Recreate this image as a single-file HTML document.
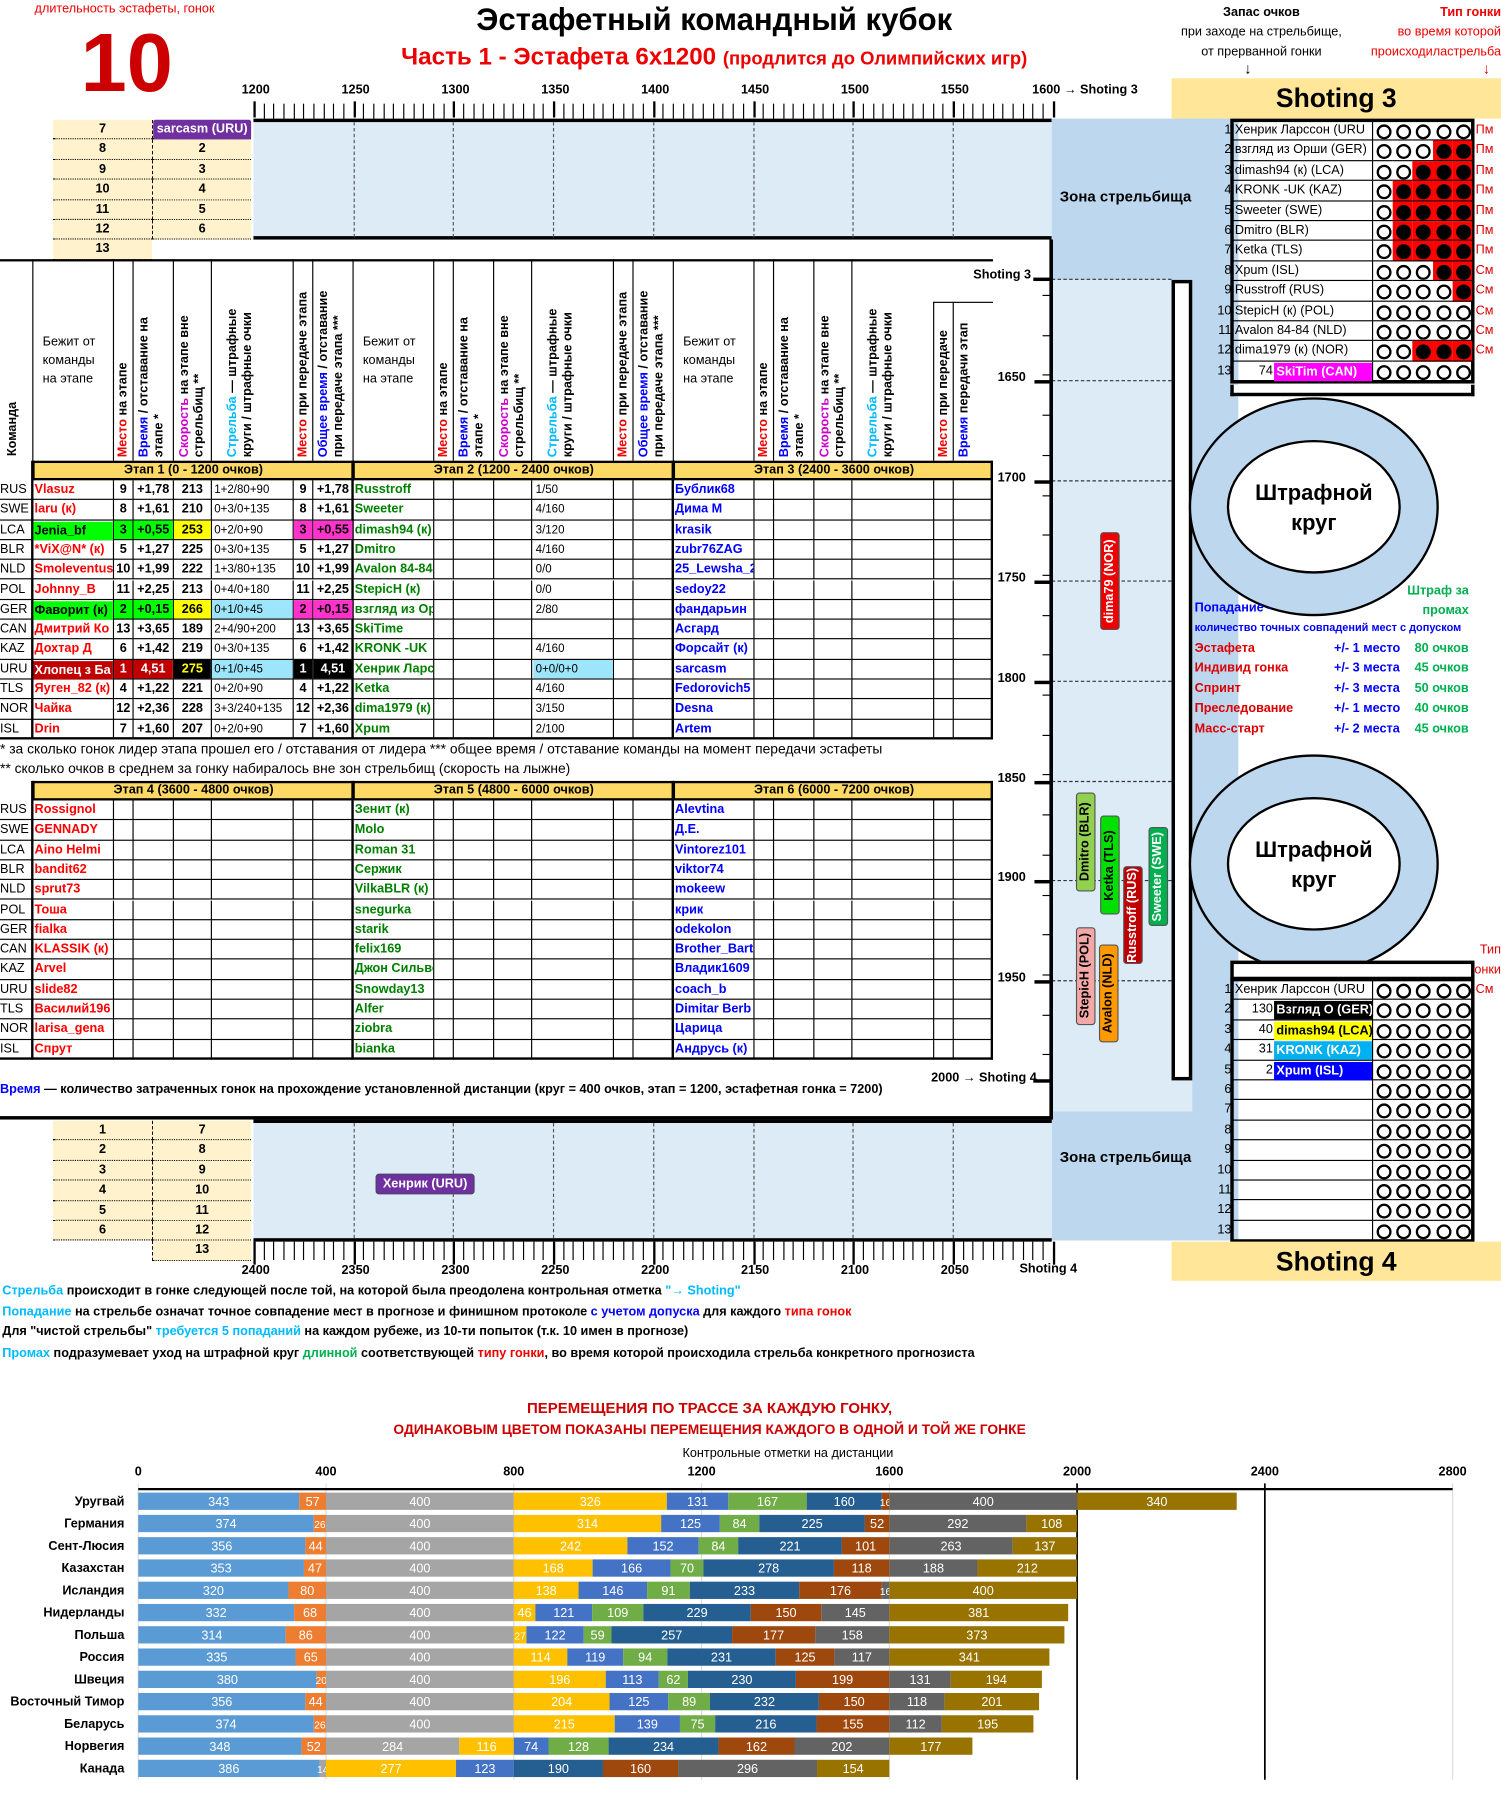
<!DOCTYPE html>
<html><head><meta charset="utf-8">
<style>
html,body{margin:0;padding:0;background:#fff;}
body{width:1501px;height:1806px;overflow:hidden;position:relative;}
#wrap{position:absolute;left:0;top:0;width:1303px;height:1568px;transform:scale(1.15196,1.1518);transform-origin:0 0;font-family:"Liberation Sans","DejaVu Sans",sans-serif;}
#wrap div{position:absolute;box-sizing:border-box;white-space:nowrap;overflow:hidden;}
.vt{writing-mode:vertical-rl;transform:rotate(180deg);white-space:normal!important;font-weight:bold;font-size:11px;line-height:13px;}
</style></head><body>
<div id="wrap"></div>
<svg id="chart" width="1303" height="390" style="position:absolute;left:0;top:0;transform-origin:0 0;"></svg>
<script>
const W=document.getElementById('wrap');
function mk(x,y,w,h,css,text,name){
  const el=document.createElement('div');
  el.style.cssText='left:'+x+'px;top:'+y+'px;width:'+w+'px;height:'+h+'px;'+(css||'');
  if(text!==undefined&&text!==null) el.innerHTML=text;
  
  
  W.appendChild(el);
  return el;
}
const T='font-size:11px;font-weight:bold;line-height:17px;';
mk(30,2,200,14,'color:#e00;font-size:11px;','длительность эстафеты, гонок','duration-label');
mk(70,18,110,75,'color:#c00;font-size:72px;font-weight:bold;line-height:75px;','10','duration-value');
mk(300,2,640,32,'font-size:27px;font-weight:bold;text-align:center;','Эстафетный командный кубок','main-title');
mk(280,38,680,28,'color:#e00;font-size:21px;font-weight:bold;text-align:center;','Часть 1 - Эстафета 6х1200 <span style="font-size:16px">(продлится до Олимпийских игр)</span>','subtitle');
mk(1010,3,170,64,'font-size:11px;text-align:center;line-height:17px;','<b>Запас очков</b><br>при заходе на стрельбище,<br>от прерванной гонки','reserve-note');
mk(1170,3,133,64,'font-size:11px;text-align:right;line-height:17px;color:#e00;','<b>Тип гонки</b><br>во время которой<br>происходиластрельба','race-type-note');
mk(1080,52,20,16,'font-size:13px;','↓','arrow-1');mk(1287,52,16,16,'font-size:13px;color:#e00','↓','arrow-2');
mk(1017,68,286,35,'background:#ffe699;font-size:23px;font-weight:bold;text-align:center;line-height:35px;','Shoting 3','shoting-3-header');
const topTicks=['1200','1250','1300','1350','1400','1450','1500','1550'];
topTicks.forEach((t,i)=>{mk(204+i*86.7,72,36,14,'font-size:11px;font-weight:bold;text-align:center;',t,'top-axis-label');});
mk(896,72,120,14,'font-size:11px;font-weight:bold;','1600 → Shoting 3','top-axis-end');
for(let i=0;i<=80;i++){const x=220+i*8.67;mk(x,i%10==0?88:90,i%10==0?2:1,14,'background:#000','','top-tick');}
mk(220,103,693,105,'background:#ddebf7;border-top:3px solid #000;border-bottom:3px solid #000;','','top-track');
for(let i=1;i<8;i++)mk(220+i*86.7,106,1,100,'border-left:1px dashed #555','','top-grid');
for(let r=0;r<7;r++){
 mk(46,104+r*17.4,86,17.4,'background:#fff2cc;border-bottom:1px dotted #000;text-align:center;'+T,String(7+r),'start-cell');
 if(r<6) mk(132,104+r*17.4,86,17.4,'background:#fff2cc;border-bottom:1px dotted #000;border-left:1px dashed #000;text-align:center;'+T,r==0?'':String(r+1),'start-cell');
}
mk(133,104,85,17,'background:#7030a0;color:#fff;text-align:center;border-radius:2px;'+T,'sarcasm (URU)','sarcasm-marker');
mk(913,103,157,974,'background:#ddebf7;','','zone-light');
mk(1035,103,40,974,'background:#bdd7ee;','','zone-track');
mk(913,103,123,140,'background:#bdd7ee;','','zone-top');
mk(920,163,130,20,'font-size:13px;font-weight:bold;','Зона стрельбища','zone-label-top');
mk(913,965,123,112,'background:#bdd7ee;','','zone-bottom');
mk(920,997,130,20,'font-size:13px;font-weight:bold;','Зона стрельбища','zone-label-bottom');
mk(1017,243,18,695,'background:#fff;border:3px solid #000;','','inner-track-wall');
mk(911,208,3,764,'background:#000','','right-axis-line');
[['1650',330],['1700',417],['1750',504],['1800',591],['1850',678],['1900',764],['1950',851]].forEach(a=>{
 mk(866,a[1]-8,38,15,'font-size:11px;font-weight:bold;',a[0],'right-axis-label');
 mk(898,a[1],15,3,'background:#000','','right-major-tick');
 mk(913,a[1],104,1,'border-top:1px dashed #333','','right-grid');
});
for(let i=0;i<20;i++)mk(905,256+i*34.7,7,1,'background:#000','','right-minor-tick');
mk(810,233,85,16,'font-size:11px;font-weight:bold;text-align:right','Shoting 3','shoting-3-mark');
mk(897,241,16,3,'background:#000','','s3-tick');
mk(913,242,104,1,'border-top:1px dashed #333','','s3-grid');
mk(780,930,120,16,'font-size:11px;font-weight:bold;text-align:right','2000 → Shoting 4','shoting-4-mark');
mk(897,937,16,3,'background:#000','','s4-tick');
function loop(cy,n){
 mk(1032,cy-95,217,190,'border-radius:50%;background:#bdd7ee;border:2px solid #000;','','penalty-loop-'+n);
 mk(1065,cy-58,151,116,'border-radius:50%;background:#fff;border:2px solid #000;text-align:center;font-size:19px;font-weight:bold;line-height:26px;padding-top:32px;','Штрафной<br>круг','penalty-loop-label-'+n);
}
loop(440,1);loop(750,2);
mk(1200,505,75,36,'color:#00b050;font-size:11px;font-weight:bold;text-align:right;line-height:17px;','Штраф за<br>промах','penalty-legend');
mk(1037,522,120,16,'color:#00f;font-size:11px;font-weight:bold;','Попадание -','hit-legend');
mk(1037,540,240,14,'color:#00f;font-size:9.5px;font-weight:bold;','количество точных совпадений мест с допуском','hit-legend-desc');
[['Эстафета','+/- 1 место','80 очков'],['Индивид гонка','+/- 3 места','45 очков'],['Спринт','+/- 3 места','50 очков'],['Преследование','+/- 1 место','40 очков'],['Масс-старт','+/- 2 места','45 очков']].forEach((r,i)=>{
 const y=557+i*17.4;
 mk(1037,y,110,17,'color:#d00;font-size:11px;font-weight:bold;',r[0],'race-type');
 mk(1158,y,65,17,'color:#00f;font-size:11px;font-weight:bold;',r[1],'tolerance');
 mk(1228,y,55,17,'color:#00b050;font-size:11px;font-weight:bold;',r[2],'penalty-points');
});
mk(1270,817,33,34,'color:#d00;font-size:11px;text-align:right;line-height:17px;','Тип<br>гонки','race-type-note-2');
[['dima79 (NOR)',955,462,85,'#e00','#fff'],['Dmitro (BLR)',934,688,86,'#92d050','#000'],['Ketka (TLS)',955,708,86,'#00e000','#000'],['Russtroff (RUS)',975,752,85,'#c00000','#fff'],['Sweeter (SWE)',997,718,86,'#00b050','#fff'],['StepicH (POL)',934,805,85,'#f4a7a7','#000'],['Avalon (NLD)',954,820,85,'#ff9900','#000']].forEach(t=>{
 mk(t[1],t[2],17,t[3],'background:'+t[4]+';color:'+t[5]+';border:1px solid #555;border-radius:3px;font-size:11px;font-weight:bold;writing-mode:vertical-rl;transform:rotate(180deg);text-align:center;line-height:15px;',t[0],'runner-tag');
});
function shootList(y0,names,fills,types){
 mk(1068,y0-2,212,13*17.4+4,'border:3px solid #000;','','shooting-list-border');
 names.forEach((n,i)=>{
  const y=y0+i*17.4;
  mk(1050,y,19,17.4,'text-align:right;font-size:11px;line-height:17px;',String(i+1),'lane-number');
  mk(1070,y,122,17.4,'border-bottom:1px solid #000;border-right:1px solid #000;font-size:11px;line-height:17px;padding-left:2px;',n[0]?n[0]:'','lane-name');
  if(n[1]!==undefined){mk(1070,y,35,17.4,'text-align:right;font-size:11px;line-height:17px;',n[1],'reserve-points');
   mk(1106,y+1,85,16,'background:'+n[2]+';color:'+n[3]+';font-size:11px;font-weight:bold;line-height:16px;padding-left:2px;',n[4],'lane-name-highlight');}
  for(let c=0;c<5;c++){
   const hit=c>=5-fills[i];
   mk(1192+c*17.2,y,17.2,17.4,'border-bottom:1px solid #000;'+(hit?'background:#f00;':''),'<span style="position:absolute;left:3px;top:3px;width:9px;height:9px;border:2px solid #000;border-radius:50%;background:'+(hit?'#000':'transparent')+'"></span>','target-'+c);
  }
  if(types[i])mk(1281,y,22,17.4,'color:#d00;font-size:11px;line-height:17px;',types[i],'race-type-cell');
 });
}
shootList(105,[['Хенрик Ларссон (URU'],['взгляд из Орши (GER)'],['dimash94 (к) (LCA)'],['KRONK -UK (KAZ)'],['Sweeter (SWE)'],['Dmitro (BLR)'],['Ketka (TLS)'],['Xpum (ISL)'],['Russtroff (RUS)'],['StepicH (к)  (POL)'],['Avalon 84-84 (NLD)'],['dima1979 (к) (NOR)'],['', '74','#ff00ff','#fff','SkiTim (CAN)']],[0,2,3,4,4,4,4,2,1,0,0,3,0],['Пм','Пм','Пм','Пм','Пм','Пм','Пм','См','См','См','См','См','']);
mk(1068,334,212,10,'border:3px solid #000;border-top:none;background:#fff','','s3-bottom-box');
mk(1068,834,212,17,'border:3px solid #000;background:#fff','','s4-top-box');
shootList(851,[['Хенрик Ларссон (URU'],['','130','#000','#fff','Взгляд О (GER)'],['','40','#ffff00','#000','dimash94 (LCA)'],['','31','#00b0f0','#fff','KRONK (KAZ)'],['','2','#0000ff','#fff','Xpum (ISL)'],[''],[''],[''],[''],[''],[''],[''],['']],[0,0,0,0,0,0,0,0,0,0,0,0,0],['См','','','','','','','','','','','','']);
const teams=['RUS','SWE','LCA','BLR','NLD','POL','GER','CAN','KAZ','URU','TLS','NOR','ISL'];
const s1=['Vlasuz','laru (к)','Jenia_bf','*ViX@N* (к)','Smoleventus','Johnny_B','Фаворит (к)','Дмитрий Ко','Дохтар Д','Хлопец з Ба','Яуген_82 (к)','Чайка','Drin'];
const place1=['9','8','3','5','10','11','2','13','6','1','4','12','7'];
const time1=['+1,78','+1,61','+0,55','+1,27','+1,99','+2,25','+0,15','+3,65','+1,42','4,51','+1,22','+2,36','+1,60'];
const speed1=['213','210','253','225','222','213','266','189','219','275','221','228','207'];
const shoot1=['1+2/80+90','0+3/0+135','0+2/0+90','0+3/0+135','1+3/80+135','0+4/0+180','0+1/0+45','2+4/90+200','0+3/0+135','0+1/0+45','0+2/0+90','3+3/240+135','0+2/0+90'];
const s2=['Russtroff','Sweeter','dimash94 (к)','Dmitro','Avalon 84-84','StepicH (к)','взгляд из Орши','SkiTime','KRONK -UK','Хенрик Ларссон','Ketka','dima1979 (к)','Xpum'];
const shoot2=['1/50','4/160','3/120','4/160','0/0','0/0','2/80','','4/160','0+0/0+0','4/160','3/150','2/100'];
const s3=['Бублик68','Дима М','krasik','zubr76ZAG','25_Lewsha_2','sedoy22','фандарьин','Асгард','Форсайт (к)','sarcasm','Fedorovich5','Desna','Artem'];
const s4=['Rossignol','GENNADY','Aino Helmi','bandit62','sprut73','Тоша','fialka','KLASSIK (к)','Arvel','slide82','Василий196','larisa_gena','Спрут'];
const s5=['Зенит (к)','Molo','Roman 31','Сержик','VilkaBLR (к)','snegurka','starik','felix169','Джон Сильвер','Snowday13','Alfer','ziobra','bianka'];
const s6=['Alevtina','Д.Е.','Vintorez101','viktor74','mokeew','крик','odekolon','Brother_Bart','Владик1609','coach_b','Dimitar Berb','Царица','Андрусь (к)'];
const cols=[[28,70],[98,17],[115,35],[150,33],[183,71],[254,17],[271,35]];
function grid(y0,stageNames,nameColors,titles){
 mk(28,y0-17,834,17,'background:#ffd966;border:2px solid #000;','','stage-header-row');
 titles.forEach((t,s)=>mk(28+s*278,y0-17,278,17,'text-align:center;border-left:2px solid #000;'+T,t,'stage-title'));
 for(let r=0;r<13;r++){
  const y=y0+r*17.3;
  mk(0,y,28,17.3,'font-size:11px;line-height:17px;border-bottom:1px solid #000;',teams[r],'team-code');
  for(let s=0;s<3;s++){
   cols.forEach(c=>{
    mk(c[0]+s*278,y,c[1],17.3,'border-left:1px solid #000;border-bottom:1px solid #000;','','cell');
   });
   mk(29+s*278,y,69,17.3,'color:'+nameColors[s]+';'+T+'padding-left:1px;',stageNames[s][r],'runner-name');
  }
 }
 mk(0,y0-17,862,13*17.3+17,'border-right:2px solid #000;border-bottom:2px solid #000;','','table-outline');
 [306,584].forEach(x=>mk(x-1,y0-17,2,13*17.3+17,'background:#000','','stage-divider'));
 mk(27,y0-17,2,13*17.3+17,'background:#000','','team-divider');
}
grid(417,[s1,s2,s3],['#f00','#008000','#00f'],['Этап 1  (0 - 1200 очков)','Этап 2  (1200 - 2400 очков)','Этап 3  (2400 - 3600 очков)']);
grid(695,[s4,s5,s6],['#f00','#008000','#00f'],['Этап 4  (3600 - 4800 очков)','Этап 5  (4800 - 6000 очков)','Этап 6  (6000 - 7200 очков)']);
for(let r=0;r<13;r++){
 const y=417+r*17.3;
 let nb='',nc='#f00',pb='',tb='',sb='',sc='#000',shb='',p2='',p2c='#000';
 if(r==2||r==6){nb='#00ff00';nc='#000';pb='#00ff00';tb='#00ff00';sb='#ffff00';p2='#ff33cc';}
 if(r==6)shb='#9de5fb';
 if(r==9){nb='#c00000';nc='#fff';pb='#c00000';tb='#c00000';sb='#000';sc='#ffff00';shb='#9de5fb';p2='#000';p2c='#fff';}
 if(nb)mk(29,y+1,69,16,'background:'+nb+';color:'+nc+';'+T+'line-height:16px;padding-left:1px',s1[r],'runner-name-hl');
 mk(99,y,16,16.3,(pb?'background:'+pb+';color:'+(r==9?'#fff':'#000')+';':'')+T+'text-align:center',place1[r],'place-stage');
 mk(116,y,34,16.3,(tb?'background:'+tb+';color:'+(r==9?'#fff':'#000')+';':'')+T+'text-align:center',time1[r],'time-stage');
 mk(151,y,32,16.3,(sb?'background:'+sb+';':'')+'color:'+sc+';'+T+'text-align:center',speed1[r],'speed');
 mk(184,y,70,16.3,(shb?'background:'+shb+';':'')+'font-size:10px;line-height:17px;padding-left:2px',shoot1[r],'shooting');
 mk(255,y,16,16.3,(p2?'background:'+p2+';color:'+p2c+';':'')+T+'text-align:center',place1[r],'place-handover');
 mk(272,y,34,16.3,(p2?'background:'+p2+';color:'+p2c+';':'')+T+'text-align:center',time1[r],'total-time');
 mk(463,y,69,16.3,(r==9?'background:#9de5fb;':'')+'font-size:10px;line-height:17px;padding-left:2px',shoot2[r],'shooting-s2');
}
mk(0,225,862,175,'border-top:2px solid #000;','','table-header');
mk(0,225,28,175,'','<div class="vt" style="position:absolute;left:5px;bottom:4px;height:160px;text-align:left">Команда</div>','team-col-header');
const vh=[
 [17,'<span style="color:#e00">Место</span> на этапе'],
 [35,'<span style="color:#00f">Время</span> / отставание на этапе *'],
 [33,'<span style="color:#c0c">Скорость</span> на этапе вне стрельбищ **'],
 [71,'<span style="color:#0bf">Стрельба</span> — штрафные круги / штрафные очки'],
 [17,'<span style="color:#e00">Место</span> при передаче этапа'],
 [35,'<span style="color:#00f">Общее время</span> / отставание при передаче этапа ***']];
for(let s=0;s<3;s++){
 const bx=28+s*278;
 mk(bx,225,70,175,'border-left:1px solid #000;','<div style="position:absolute;left:8px;top:64px;font-size:11px;line-height:16px;white-space:normal;width:60px">Бежит от команды на этапе</div>','runner-col-header');
 let x=bx+70;
 vh.forEach((h,i)=>{
  let txt=h[1],top=225;
  if(s==2&&i==4){txt='<span style="color:#e00">Место</span> при передаче';top=262;}
  if(s==2&&i==5){txt='<span style="color:#00f">Время</span>  передачи этап';top=262;}
  mk(x,top,h[0],400-top,'border-left:1px solid #000;'+(top>225?'border-top:1px solid #000;':''),'<div class="vt" style="position:absolute;left:'+(h[0]>30&&h[0]<60?3:(h[0]>60?12:2))+'px;bottom:3px;height:'+(top>225?130:150)+'px;text-align:left">'+txt+'</div>','metric-col-header');
  x+=h[0];
 });
}
mk(0,643,880,16,'font-size:12px;','* за сколько гонок лидер этапа прошел его / отставания от лидера *** общее время / отставание команды на момент передачи эстафеты','footnote-1');
mk(0,660,600,16,'font-size:12px;','** сколько очков в среднем за гонку набиралось вне зон стрельбищ (скорость на лыжне)','footnote-2');
mk(0,940,800,16,'font-size:11px;font-weight:bold;','<span style="color:#00f">Время</span> — количество затраченных гонок на прохождение установленной дистанции (круг = 400 очков, этап = 1200, эстафетная гонка = 7200)','time-note');
mk(911,208,3,764,'background:#000','','outline-right');
mk(0,969,914,3,'background:#000','','outline-bottom');
mk(220,972,693,106,'background:#ddebf7;border-top:3px solid #000;border-bottom:3px solid #000;','','bottom-track');
for(let i=1;i<8;i++)mk(220+i*86.7,975,1,100,'border-left:1px dashed #555','','bottom-grid');
for(let r=0;r<7;r++){
 if(r<6) mk(46,973+r*17.4,86,17.4,'background:#fff2cc;border-bottom:1px dotted #000;text-align:center;'+T,String(r+1),'start-cell');
 mk(132,973+r*17.4,86,17.4,'background:#fff2cc;border-bottom:1px dotted #000;border-left:1px dashed #000;text-align:center;'+T,String(7+r),'start-cell');
}
mk(326,1019,86,18,'background:#7030a0;color:#fff;text-align:center;border-radius:3px;border:1px solid #446;'+T+'line-height:16px','Хенрик (URU)','henrik-marker');
for(let i=0;i<=80;i++){const x=220+i*8.67;mk(x,1078,i%10==0?2:1,i%10==0?20:16,'background:#000','','bottom-tick');}
['2400','2350','2300','2250','2200','2150','2100','2050'].forEach((t,i)=>mk(204+i*86.7,1097,36,14,'font-size:11px;font-weight:bold;text-align:center;',t,'bottom-axis-label'));
mk(885,1096,70,14,'font-size:11px;font-weight:bold;','Shoting 4','bottom-axis-end');
mk(1017,1078,286,34,'background:#ffe699;font-size:23px;font-weight:bold;text-align:center;line-height:34px;','Shoting 4','shoting-4-header');
const fs='font-size:11px;font-weight:bold;';
mk(2,1115,900,16,fs,'<span style="color:#0bf">Стрельба</span> происходит в гонке следующей после той, на которой была преодолена контрольная отметка <span style="color:#0bf">"→ Shoting"</span>','note-1');
mk(2,1133,900,16,fs,'<span style="color:#0bf">Попадание</span> на стрельбе означат точное совпадение мест в прогнозе и финишном протоколе <span style="color:#00f">с учетом допуска</span> для каждого <span style="color:#e00">типа гонок</span>','note-2');
mk(2,1150,900,16,fs,'Для "чистой стрельбы" <span style="color:#0bf">требуется 5 попаданий</span> на каждом рубеже, из 10-ти попыток (т.к. 10 имен в прогнозе)','note-3');
mk(2,1169,900,16,fs,'<span style="color:#0bf">Промах</span> подразумевает уход на штрафной круг <span style="color:#00b050">длинной</span> соответствующей <span style="color:#e00">типу гонки</span>, во время которой происходила стрельба конкретного прогнозиста','note-4');
</script>
<script>
const countries=['Уругвай','Германия','Сент-Люсия','Казахстан','Исландия','Нидерланды','Польша','Россия','Швеция','Восточный Тимор','Беларусь','Норвегия','Канада'];
const race1=[343,374,356,353,320,332,314,335,380,356,374,348,386];
const race2=[57,26,44,47,80,68,86,65,20,44,26,52,0];
const race3=[400,400,400,400,400,400,400,400,400,400,400,284,14];
const race4=[326,314,242,168,138,46,27,114,196,204,215,116,277];
const race5=[131,125,152,166,146,121,122,119,113,125,139,74,123];
const race6=[167,84,84,70,91,109,59,94,62,89,75,128,0];
const race7=[160,225,221,278,233,229,257,231,230,232,216,234,190];
const race8=[16,52,101,118,176,150,177,125,199,150,155,162,160];
const race9=[400,292,263,188,16,145,158,117,131,118,112,202,296];
const race10=[340,108,137,212,400,381,373,341,194,201,195,177,154];
const race11=[0,0,0,0,0,0,0,0,0,0,0,0,0];
const xTicks=[0,400,800,1200,1600,2000,2400,2800];
const series=[race1,race2,race3,race4,race5,race6,race7,race8,race9,race10,race11];
const colors=['#5b9bd5','#ed7d31','#a5a5a5','#ffc000','#4472c4','#70ad47','#255e91','#9e480e','#636363','#997300','#c9e265'];
const NS='http://www.w3.org/2000/svg';
const svg=document.getElementById('chart');
svg.style.transform='scale(1.15196,1.1518)';
svg.style.top=(1180*1.1518)+'px';
const x0=120,pxPer=163/400,rowTop=1294-1180,pitch=19.33,barH=15;
const X=v=>x0+v*pxPer;
const Y=i=>rowTop+i*pitch+2;
function t(x,y,s,attrs,name){const e=document.createElementNS(NS,'text');e.setAttribute('x',x);e.setAttribute('y',y);for(const k in attrs)e.setAttribute(k,attrs[k]);e.textContent=s;
 
 
 svg.appendChild(e);return e;}
const F='Liberation Sans, sans-serif';
t(616,47,'ПЕРЕМЕЩЕНИЯ ПО ТРАССЕ ЗА КАЖДУЮ ГОНКУ,',{'font-size':13,'font-weight':'bold',fill:'#c00','text-anchor':'middle','font-family':F},'chart-title-1');
t(616,65,'ОДИНАКОВЫМ ЦВЕТОМ ПОКАЗАНЫ ПЕРЕМЕЩЕНИЯ КАЖДОГО В ОДНОЙ И ТОЙ ЖЕ ГОНКЕ',{'font-size':12,'font-weight':'bold',fill:'#c00','text-anchor':'middle','font-family':F},'chart-title-2');
t(684,85,'Контрольные отметки на дистанции',{'font-size':11,'text-anchor':'middle','font-family':F},'x-axis-title');
xTicks.forEach(v=>{
 t(X(v),101,String(v),{'font-size':11,'font-weight':'bold','text-anchor':'middle','font-family':F},'x-tick-label');
 const l=document.createElementNS(NS,'line');l.setAttribute('x1',X(v));l.setAttribute('x2',X(v));l.setAttribute('y1',108);l.setAttribute('y2',rowTop+13*pitch);
 l.setAttribute('stroke',(v==2000||v==2400)?'#000':'#ddd');l.setAttribute('stroke-width',(v==2000||v==2400)?1.5:1);
 
 
 svg.appendChild(l);
});
const ax=document.createElementNS(NS,'line');ax.setAttribute('x1',X(0));ax.setAttribute('x2',X(2800));ax.setAttribute('y1',rowTop-1);ax.setAttribute('y2',rowTop-1);ax.setAttribute('stroke','#000');ax.setAttribute('stroke-width',2);


svg.appendChild(ax);
countries.forEach((c,i)=>{
 t(108,Y(i)+11,c,{'font-size':11,'font-weight':'bold','text-anchor':'end','font-family':F},'country-label');
 let acc=0;
 series.forEach((s,k)=>{
  const v=s[i];
  if(v>0){
   const r=document.createElementNS(NS,'rect');
   r.setAttribute('x',X(acc));r.setAttribute('y',Y(i));r.setAttribute('width',v*pxPer);r.setAttribute('height',barH);r.setAttribute('fill',colors[k]);
   
   
   svg.appendChild(r);
   t(X(acc+v/2),Y(i)+11.5,String(v),{'font-size':v<30?9:11,fill:'#fff','text-anchor':'middle','font-family':F},'segment-value');
  }
  acc+=v;
 });
});
</script>
</body></html>
